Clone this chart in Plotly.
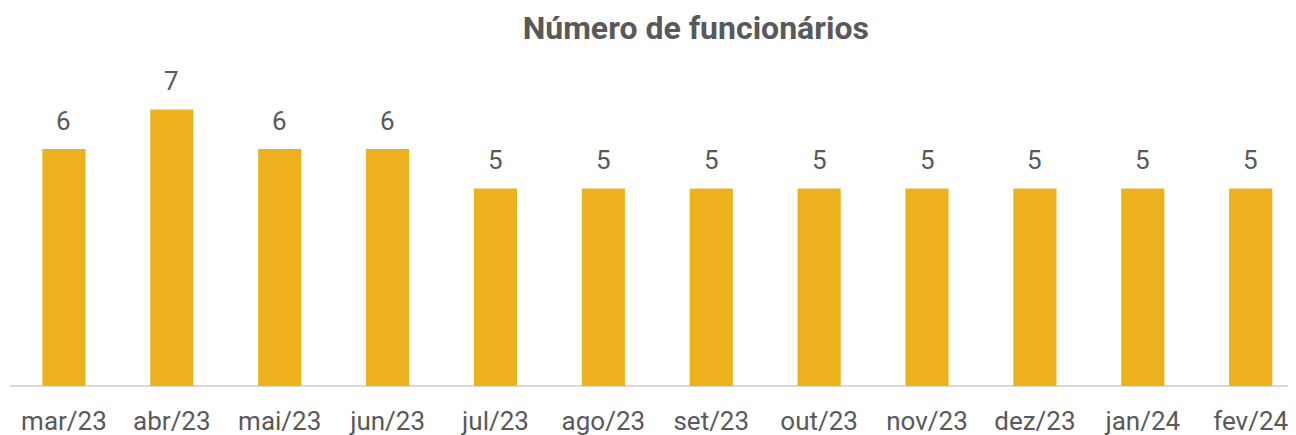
import plotly.graph_objects as go

categories = ["mar/23", "abr/23", "mai/23", "jun/23", "jul/23", "ago/23",
              "set/23", "out/23", "nov/23", "dez/23", "jan/24", "fev/24"]
values = [6, 7, 6, 6, 5, 5, 5, 5, 5, 5, 5, 5]

bar_color = "#EDB11E"
text_color = "#595959"
font_family = "Roboto, sans-serif"

fig = go.Figure()
fig.add_trace(go.Bar(
    x=list(range(len(categories))),
    y=values,
    width=0.4,
    marker=dict(color=bar_color, line=dict(width=0)),
    hoverinfo="skip",
))

for i, v in enumerate(values):
    fig.add_annotation(x=i, y=v, text=str(v), showarrow=False,
                       yanchor="bottom", yshift=11,
                       font=dict(family=font_family, size=26, color=text_color))

fig.update_layout(
    width=1288, height=427,
    margin=dict(l=2, r=0, t=22, b=49, autoexpand=False),
    paper_bgcolor="white", plot_bgcolor="white",
    showlegend=False,
    title=dict(text="<b>Número de funcionários</b>", x=0.534, xanchor="center",
               xref="container", y=0.953, yanchor="middle",
               font=dict(family=font_family, size=32, color=text_color)),
    xaxis=dict(range=[-0.5, 11.42], tickmode="array",
               tickvals=list(range(len(categories))), ticktext=categories,
               showgrid=False, zeroline=False, showline=False,
               ticks="outside", ticklen=12, tickcolor="rgba(0,0,0,0)",
               tickfont=dict(family=font_family, size=26, color=text_color),
               automargin=False, fixedrange=True),
    yaxis=dict(range=[0, 9.01], showgrid=False, zeroline=True,
               zerolinecolor="#D9D9D9", zerolinewidth=2,
               showticklabels=False, showline=False, ticks="",
               automargin=False, fixedrange=True),
)

fig.write_html("out.html")
